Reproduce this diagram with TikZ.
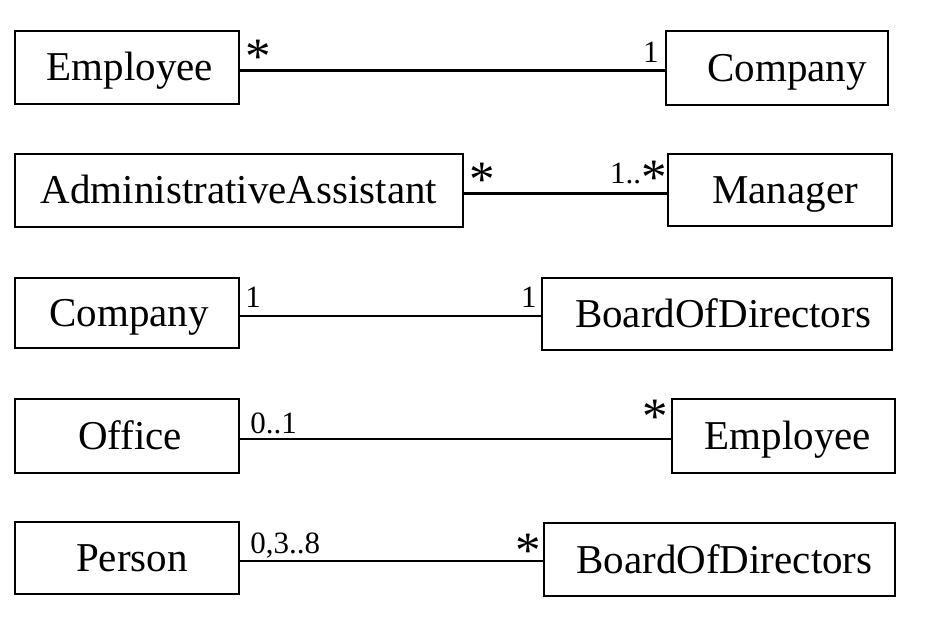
\documentclass[tikz,border=0pt]{standalone}
\usepackage{fontspec}
\setmainfont{Liberation Serif}
\newcommand\mstar{\raisebox{-11pt}{\fontsize{51}{51}\selectfont *}}
\tikzset{
  cls/.style={draw=black, line width=2.5pt, inner sep=0pt,
    font=\fontsize{41}{48}\selectfont, text height=27pt, text depth=0pt},
  mult/.style={font=\fontsize{31}{34}\selectfont, inner sep=0pt},
  assoc/.style={draw=black, line width=2.8pt},
  thinassoc/.style={draw=black, line width=1.9pt}
}
\begin{document}
\begin{tikzpicture}[x=1pt,y=1pt]
\useasboundingbox (0,0) rectangle (939,621);
% row 1
\node[cls, minimum width=224pt, minimum height=73pt] (emp1) at (127,553.7) {\hspace*{6pt}Employee};
\node[cls, minimum width=222pt, minimum height=74pt] (comp1) at (777,553) {\hspace*{20pt}Company};
\coordinate (l1) at ([yshift=-3pt]emp1.east);
\coordinate (r1) at (l1 -| comp1.west);
\draw[assoc] (l1) -- (r1);
\node[mult, anchor=base west] (m1a) at ([shift={(5pt,8pt)}]l1) {\mstar};
\node[mult, anchor=base east] (m1b) at ([shift={(-6pt,8pt)}]r1) {1};
% row 2
\node[cls, minimum width=448pt, minimum height=73pt] (aa) at (239,430.5) {AdministrativeAssistant};
\node[cls, minimum width=224pt, minimum height=72pt] (mgr) at (780,431) {\hspace*{10pt}Manager};
\coordinate (l2) at ([yshift=-3pt]aa.east);
\coordinate (r2) at (l2 -| mgr.west);
\draw[assoc] (l2) -- (r2);
\node[mult, anchor=base west] (m2a) at ([shift={(5pt,8pt)}]l2) {\mstar};
\node[mult, anchor=base east] (m2b) at ([shift={(0pt,10pt)}]r2) {1..\mstar};
% row 3
\node[cls, minimum width=224pt, minimum height=70pt] (comp2) at (127,308) {\hspace*{4pt}Company};
\node[cls, minimum width=350pt, minimum height=72pt] (bod1) at (717,307) {\hspace*{12pt}BoardOfDirectors};
\coordinate (l3) at ([yshift=-3pt]comp2.east);
\coordinate (r3) at (l3 -| bod1.west);
\draw[assoc] (l3) -- (r3);
\node[mult, anchor=base west] (m3a) at ([shift={(5pt,8pt)}]l3) {1};
\node[mult, anchor=base east] (m3b) at ([shift={(-4pt,8pt)}]r3) {1};
% row 4
\node[cls, minimum width=224pt, minimum height=74pt] (off) at (127,185) {\hspace*{6pt}Office};
\node[cls, minimum width=223pt, minimum height=74pt] (emp2) at (783.5,185) {\hspace*{9pt}Employee};
\coordinate (l4) at ([yshift=-3pt]off.east);
\coordinate (r4) at (l4 -| emp2.west);
\draw[thinassoc] (l4) -- (r4);
\node[mult, anchor=base west] (m4a) at ([shift={(10pt,5.5pt)}]l4) {0..1};
\node[mult, anchor=base east] (m4b) at ([shift={(-3pt,16pt)}]r4) {\mstar};
% row 5
\node[cls, minimum width=224pt, minimum height=72pt] (per) at (127,63) {\hspace*{10pt}Person};
\node[cls, minimum width=351pt, minimum height=73pt] (bod2) at (719.5,61.5) {\hspace*{10pt}BoardOfDirectors};
\coordinate (l5) at ([yshift=-3pt]per.east);
\coordinate (r5) at (l5 -| bod2.west);
\draw[assoc] (l5) -- (r5);
\node[mult, anchor=base west] (m5a) at ([shift={(10pt,8pt)}]l5) {0,3..8};
\node[mult, anchor=base east] (m5b) at ([shift={(-2pt,5pt)}]r5) {\mstar};
\end{tikzpicture}
\end{document}
